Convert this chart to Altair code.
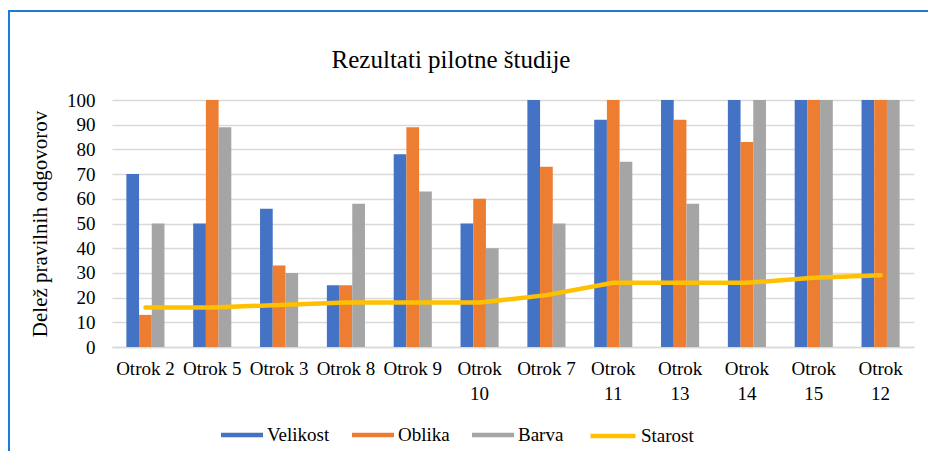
import altair as alt
import pandas as pd

categories = ["Otrok 2", "Otrok 5", "Otrok 3", "Otrok 8", "Otrok 9", "Otrok 10",
              "Otrok 7", "Otrok 11", "Otrok 13", "Otrok 14", "Otrok 15", "Otrok 12"]
series = ["Velikost", "Oblika", "Barva"]
velikost = [70, 50, 56, 25, 78, 50, 100, 92, 100, 100, 100, 100]
oblika = [13, 100, 33, 25, 89, 60, 73, 100, 92, 83, 100, 100]
barva = [50, 89, 30, 58, 63, 40, 50, 75, 58, 100, 100, 100]
starost = [16, 16, 17, 18, 18, 18, 21, 26, 26, 26, 28, 29]
y_ticks = [0, 10, 20, 30, 40, 50, 60, 70, 80, 90, 100]
bar_colors = ["#4472C4", "#ED7D31", "#A5A5A5"]
line_color = "#FFC000"
title_text = "Rezultati pilotne študije"

rows = []
for name, vals in zip(series, [velikost, oblika, barva]):
    for c, v in zip(categories, vals):
        rows.append({"cat": c, "serija": name, "val": v})
bars_df = pd.DataFrame(rows)
line_df = pd.DataFrame({"cat": categories, "val": starost, "s": ["Starost"] * len(categories)})

FONT = "Liberation Serif"

xscale = alt.Scale(domain=categories, paddingInner=0.43, paddingOuter=0.215)
yscale = alt.Scale(domain=[0, 100], nice=False)

x_axis = alt.Axis(
    title=None, labelAngle=0, ticks=False, grid=False,
    domainColor="#D9D9D9", domainWidth=1.3,
    labelFont=FONT, labelFontSize=19, labelColor="#000000",
    labelPadding=12, labelLineHeight=25, labelOverlap=False,
    labelExpr="length(datum.label) > 7 ? split(datum.label, ' ') : datum.label",
)
y_axis = alt.Axis(
    title="Delež pravilnih odgovorov", values=y_ticks,
    ticks=False, domain=False, gridColor="#D9D9D9", gridWidth=1.3,
    labelFont=FONT, labelFontSize=19, labelColor="#000000", labelPadding=17,
    labelOverlap=False,
    titleFont=FONT, titleFontSize=21, titleFontWeight="normal", titleColor="#000000",
    titlePadding=16,
)
x_enc = alt.X("cat:N", sort=categories, scale=xscale, axis=x_axis)
y_enc = alt.Y("val:Q", scale=yscale, axis=y_axis)

bars = alt.Chart(bars_df).mark_bar().encode(
    x=x_enc,
    y=y_enc,
    xOffset=alt.XOffset("serija:N", sort=series, scale=alt.Scale(domain=series, paddingInner=0, paddingOuter=0)),
    color=alt.Color(
        "serija:N", sort=series,
        scale=alt.Scale(domain=series, range=bar_colors),
        legend=alt.Legend(
            orient="none", legendX=109, legendY=314, direction="horizontal", title=None,
            symbolType="M-1,-0.107H1V0.107H-1Z", symbolSize=1764, symbolStrokeWidth=0,
            symbolOpacity=1, columnPadding=22, labelOffset=4, padding=0,
            labelFont=FONT, labelFontSize=19, labelColor="#000000",
        ),
    ),
)

line = alt.Chart(line_df).mark_line(strokeWidth=4.5, strokeCap="round", strokeJoin="round").encode(
    x=x_enc,
    y=y_enc,
    stroke=alt.Stroke(
        "s:N", scale=alt.Scale(domain=["Starost"], range=[line_color]),
        legend=alt.Legend(
            orient="none", legendX=476, legendY=311, direction="horizontal", title=None,
            symbolType="stroke", symbolSize=2025, symbolStrokeWidth=4.5, padding=0,
            labelOffset=3, labelFont=FONT, labelFontSize=19, labelColor="#000000",
        ),
    ),
)

one = pd.DataFrame({"t": [title_text]})

frame = alt.Chart(one).mark_rect(
    fillOpacity=0, stroke="#1C7CD5", strokeWidth=2
).encode(
    x=alt.value(-103), x2=alt.value(1000), y=alt.value(-89), y2=alt.value(500)
)

title = alt.Chart(one).mark_text(
    font=FONT, fontSize=25, color="#000000", align="center", baseline="middle"
).encode(
    text="t:N", x=alt.value(339), y=alt.value(-40)
)

chart = alt.layer(frame, title, bars, line).properties(
    width=802, height=247,
    autosize=alt.AutoSizeParams(type="none"),
    padding={"left": 104, "top": 92, "right": 14, "bottom": 104},
).configure(font=FONT).configure_axis(labelFont=FONT, titleFont=FONT).configure_legend(
    labelFont=FONT
).configure_view(stroke=None)

chart.save("out.html", embed_options={"renderer": "svg", "actions": False})
